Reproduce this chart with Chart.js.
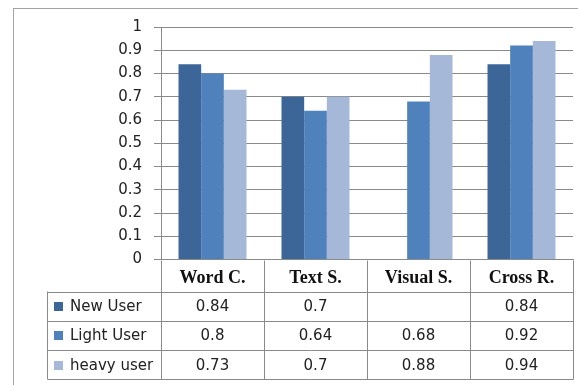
<!DOCTYPE html>
<html>
<head>
<meta charset="utf-8">
<script src="https://cdn.jsdelivr.net/npm/chart.js@4.4.1/dist/chart.umd.min.js"></script>
<style>
  html, body { margin: 0; padding: 0; background: #fff; }
  #wrap { width: 578px; height: 385px; }
</style>
</head>
<body>
<div id="wrap"><canvas id="userChart" width="578" height="385"></canvas></div>
<script>
const categories = ["Word C.", "Text S.", "Visual S.", "Cross R."];
const seriesNames = ["New User", "Light User", "heavy user"];
const newUser = [0.84, 0.7, null, 0.84];
const lightUser = [0.8, 0.64, 0.68, 0.92];
const heavyUser = [0.73, 0.7, 0.88, 0.94];
const yTickLabels = ["0", "0.1", "0.2", "0.3", "0.4", "0.5", "0.6", "0.7", "0.8", "0.9", "1"];

const colors = ["#3c6698", "#4f81bd", "#a6b8d8"];
const lineGray = "#8a8a8a";
const sansFont = "'DejaVu Sans', Verdana, sans-serif";

// data table under the plot, same look as excel
const dataTable = {
    id: "dataTable",
    beforeDraw(chart) {
        const ctx = chart.ctx;
        ctx.save();
        ctx.strokeStyle = "#a3a3a3";
        ctx.lineWidth = 1;
        ctx.strokeRect(13.5, 8.5, chart.width, chart.height);
        ctx.restore();
    },
    afterDraw(chart) {
        const ctx = chart.ctx;
        const x = chart.scales.x;
        const step = x.getPixelForValue(1) - x.getPixelForValue(0);
        const top = Math.round(chart.chartArea.bottom) + 0.5;
        const rowTop = 291.5;
        const rowH = 29.3;
        const tableLeft = 47.5;
        const tableRight = Math.round(x.right) + 0.5;
        const bottom = rowTop + rowH * seriesNames.length;
        const rows = [newUser, lightUser, heavyUser];

        ctx.save();
        ctx.strokeStyle = lineGray;
        ctx.lineWidth = 1;
        ctx.beginPath();
        for (let i = 0; i <= categories.length; i++) {
            const px = Math.round(x.left + i * step) + 0.5;
            ctx.moveTo(px, top);
            ctx.lineTo(px, bottom);
        }
        ctx.moveTo(tableLeft, rowTop);
        ctx.lineTo(tableLeft, bottom);
        for (let r = 0; r <= rows.length; r++) {
            const py = Math.round(rowTop + r * rowH) + 0.5;
            ctx.moveTo(tableLeft, py);
            ctx.lineTo(tableRight, py);
        }
        ctx.stroke();

        ctx.font = "15px " + sansFont;
        ctx.textBaseline = "middle";
        rows.forEach((vals, r) => {
            const cy = rowTop + r * rowH + rowH / 2 + 1;
            ctx.fillStyle = colors[r];
            ctx.fillRect(54, Math.round(cy - 5), 9, 9);
            ctx.fillStyle = "#222";
            ctx.textAlign = "left";
            ctx.fillText(seriesNames[r], 70, cy);
            ctx.textAlign = "center";
            vals.forEach((v, i) => {
                if (v === null) return;
                ctx.fillText(String(v), x.getPixelForValue(i), cy);
            });
        });
        ctx.restore();
    }
};

function initChart() {
    const ctx = document.getElementById("userChart");

    new Chart(ctx, {
        type: "bar",
        data: {
            labels: categories,
            datasets: [
                { label: seriesNames[0], data: newUser, backgroundColor: colors[0] },
                { label: seriesNames[1], data: lightUser, backgroundColor: colors[1] },
                { label: seriesNames[2], data: heavyUser, backgroundColor: colors[2] }
            ]
        },
        options: {
            responsive: false,
            animation: false,
            categoryPercentage: 0.66,
            barPercentage: 1,
            layout: {
                padding: { left: 14, top: 27, right: 5, bottom: 0 }
            },
            plugins: {
                legend: { display: false },
                tooltip: { enabled: false }
            },
            scales: {
                x: {
                    afterFit: s => { s.height = 125.5; },
                    grid: { display: false },
                    border: { color: lineGray, width: 1 },
                    ticks: {
                        color: "#111",
                        padding: 0,
                        maxRotation: 0,
                        autoSkip: false,
                        font: { family: "'Liberation Serif', 'Times New Roman', serif", size: 18, weight: "bold" }
                    }
                },
                y: {
                    min: 0,
                    max: 1,
                    afterFit: s => { s.width = 147; },
                    grid: { color: lineGray, tickLength: 7 },
                    border: { color: lineGray, width: 1 },
                    ticks: {
                        stepSize: 0.1,
                        padding: 12,
                        color: "#222",
                        font: { family: sansFont, size: 15 },
                        callback: (v, i) => yTickLabels[i]
                    }
                }
            }
        },
        plugins: [dataTable]
    });
}

window.addEventListener("load", initChart);
</script>
</body>
</html>
